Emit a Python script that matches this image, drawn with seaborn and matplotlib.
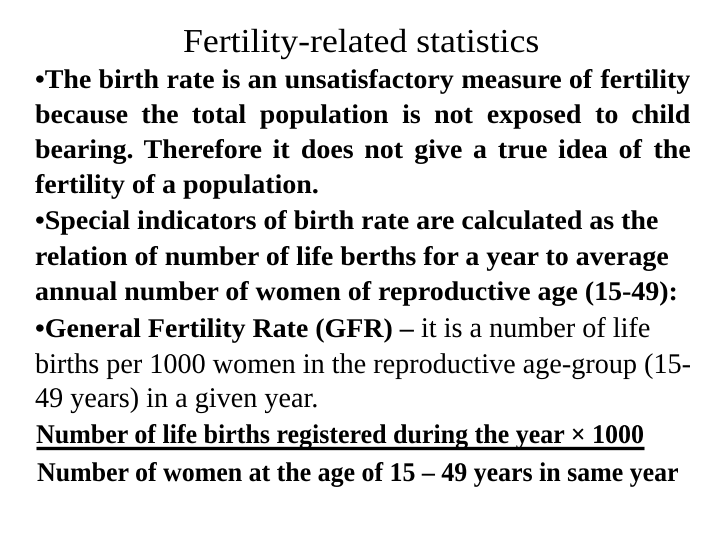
import matplotlib
matplotlib.use("Agg")
import matplotlib.pyplot as plt
import seaborn as sns
from matplotlib.textpath import TextPath
from matplotlib.font_manager import FontProperties
from matplotlib.patches import PathPatch
from matplotlib.transforms import Affine2D

sns.set_theme(style="white")
plt.rcParams['font.family'] = ['Liberation Serif', 'DejaVu Serif']

# ---- content ----
title = "Fertility-related statistics"
para1_lines = [
    "•The birth rate is an unsatisfactory measure of fertility",
    "because the total population is not exposed to child",
    "bearing. Therefore it does not give a true idea of the",
    "fertility of a population.",
]
para1_justify = [True, True, True, False]
para2_lines = [
    "•Special indicators of birth rate are calculated as the",
    "relation of number of life berths for a year to average",
    "annual number of women of reproductive age (15-49):",
]
para3_bold = "•General Fertility Rate (GFR) –"
para3_rest = "it is a number of life"
para3_lines = [
    "births per 1000 women in the reproductive age-group (15-",
    "49 years) in a given year.",
]
numerator = "Number of life births registered during the year × 1000"
denominator = "Number of women at the age of 15 – 49 years in same year"

# ---- layout (pixels, y downward) ----
W, H = 720, 540
LEFT, RIGHT = 35, 690
title_base = 52
body_bases = [88, 123, 158, 193, 229, 265, 300, 337, 373, 407]
num_base, den_base = 443, 481

fp_reg = FontProperties(family='Liberation Serif', weight='normal')
fp_bold = FontProperties(family='Liberation Serif', weight='bold')
EM_BODY = 27.0
EM_REG = 28.5
EM_TITLE = 33.5
EM_FORM = 27.0


def path_for(s, fp, em):
    return TextPath((0, 0), s, size=em, prop=fp)


def ink_right(s, fp, em):
    return path_for(s, fp, em).get_extents().x1


# horizontal condensation factors fitted to widths
sx_bold = (668 - LEFT) / ink_right(para2_lines[1], fp_bold, EM_BODY)
sx_reg = (RIGHT - LEFT) / ink_right(para3_lines[0], fp_reg, EM_REG)
sx_title = 355 / ink_right(title, fp_reg, EM_TITLE)
sx_num = (643 - 36) / ink_right(numerator, fp_bold, EM_FORM)
sx_den = (678 - 37) / ink_right(denominator, fp_bold, EM_FORM)


def draw(ax, s, x, y, fp, em, sx):
    p = path_for(s, fp, em)
    tr = Affine2D().scale(sx, -1.0).translate(x, y)
    ax.add_patch(PathPatch(tr.transform_path(p), fc='black', ec='none', lw=0))
    return x + p.get_extents().x1 * sx


def draw_justified(ax, s, x0, x1, y, fp, em, sx):
    words = s.split(' ')
    widths = [ink_right(w, fp, em) * sx for w in words]
    gap = (x1 - x0 - sum(widths)) / (len(words) - 1)
    x = x0
    for w, wd in zip(words, widths):
        draw(ax, w, x, y, fp, em, sx)
        x += wd + gap


fig = plt.figure(figsize=(W / 100, H / 100), dpi=100)
ax = fig.add_axes([0, 0, 1, 1])
ax.set_xlim(0, W)
ax.set_ylim(H, 0)
ax.axis('off')
fig.patch.set_facecolor('white')

# title
draw(ax, title, 183, title_base, fp_reg, EM_TITLE, sx_title)

# paragraph 1 (justified)
for i, (line, just) in enumerate(zip(para1_lines, para1_justify)):
    if just:
        draw_justified(ax, line, LEFT, RIGHT, body_bases[i], fp_bold, EM_BODY, sx_bold)
    else:
        draw(ax, line, LEFT, body_bases[i], fp_bold, EM_BODY, sx_bold)

# paragraph 2
for j, line in enumerate(para2_lines):
    draw(ax, line, LEFT, body_bases[4 + j], fp_bold, EM_BODY, sx_bold)

# paragraph 3 (bold lead-in then regular)
xe = draw(ax, para3_bold, LEFT, body_bases[7], fp_bold, EM_BODY, sx_bold)
draw(ax, para3_rest, xe + 0.25 * EM_REG * sx_reg, body_bases[7], fp_reg, EM_REG, sx_reg)
for j, line in enumerate(para3_lines):
    draw(ax, line, LEFT, body_bases[8 + j], fp_reg, EM_REG, sx_reg)

# formula
xn = draw(ax, numerator, 36, num_base, fp_bold, EM_FORM, sx_num)
ax.plot([36, xn + 1], [num_base + 4.5, num_base + 4.5], color='black', lw=2.4,
        solid_capstyle='butt')
draw(ax, denominator, 37, den_base, fp_bold, EM_FORM, sx_den)

fig.savefig("out.png", dpi=100, facecolor='white')
